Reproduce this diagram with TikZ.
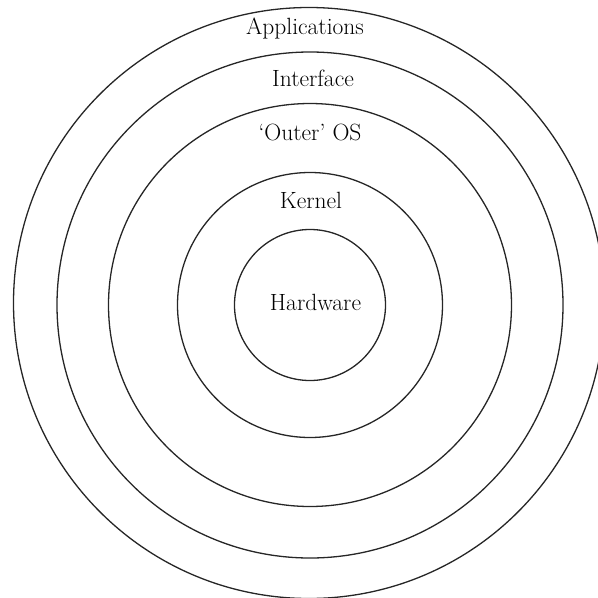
\documentclass[tikz,border=0pt]{standalone}
\begin{document}
\begin{tikzpicture}[x=1pt,y=-1pt,
  ring/.style={draw=black!85,line width=1.3pt},
  lbl/.style={font=\fontsize{23.5}{27}\selectfont,inner sep=0pt,anchor=center}]
\useasboundingbox (0,0) rectangle (598,598);
\clip (0,0) rectangle (598,598);
\coordinate (c) at (310,305);
\coordinate (co) at (309,303);
\draw[ring] (co) circle[radius=295.5];
\draw[ring] (c) circle[radius=253];
\draw[ring] (c) circle[radius=201.5];
\draw[ring] (c) circle[radius=132.5];
\draw[ring] (c) circle[radius=75.5];
\node[lbl] (app) at (305,28) {Applications};
\node[lbl] (int) at (313,78) {Interface};
\node[lbl] (out) at (310,132) {`Outer' OS};
\node[lbl] (ker) at (311,200) {Kernel};
\node[lbl] (hw) at (315.5,302) {Hardware};
\end{tikzpicture}
\end{document}
